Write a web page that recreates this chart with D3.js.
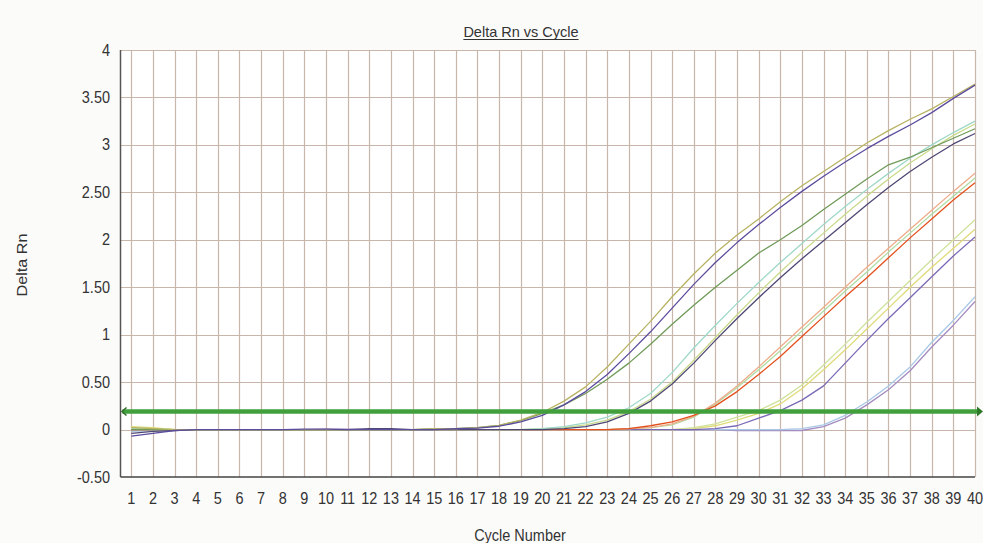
<!DOCTYPE html>
<html>
<head>
<meta charset="utf-8">
<script src="https://cdn.jsdelivr.net/npm/d3@7"></script>
<style>
  html, body { margin: 0; padding: 0; background: #fbfbfa; }
  svg { display: block; }
  text { font-family: "Liberation Sans", Arial, sans-serif; fill: #333; }
</style>
</head>
<body>
<svg id="chart" width="983" height="543"></svg>
<script>
// Amplification plot data: Delta Rn per cycle for each well
const cycles = [1,2,3,4,5,6,7,8,9,10,11,12,13,14,15,16,17,18,19,20,
                21,22,23,24,25,26,27,28,29,30,31,32,33,34,35,36,37,38,39,40];
const yTicks = [-0.5, 0, 0.5, 1, 1.5, 2, 2.5, 3, 3.5, 4];
const yTickLabels = ["-0.50", "0", "0.50", "1", "1.50", "2", "2.50", "3", "3.50", "4"];
const threshold = 0.19;

const wellA1 = [0.02,0.01,0.00,0.00,0.00,0.00,0.00,0.00,0.00,0.00,0.00,0.00,0.00,0.00,0.01,0.01,0.02,0.045,0.10,0.18,
                0.30,0.45,0.66,0.90,1.14,1.40,1.64,1.86,2.05,2.22,2.40,2.57,2.72,2.87,3.02,3.15,3.27,3.38,3.51,3.64];
const wellA2 = [-0.07,-0.04,-0.01,0.00,0.00,0.00,0.00,0.00,0.005,0.005,0.00,0.00,0.00,0.00,0.00,0.01,0.015,0.035,0.08,0.15,
                0.26,0.40,0.58,0.80,1.03,1.28,1.53,1.76,1.97,2.16,2.34,2.51,2.67,2.82,2.96,3.09,3.21,3.34,3.49,3.63];
const wellA3 = [0.00,0.00,0.00,0.00,0.00,0.00,0.00,0.00,0.00,0.00,0.00,0.00,0.00,0.00,0.01,0.01,0.02,0.045,0.095,0.17,
                0.26,0.38,0.53,0.70,0.90,1.11,1.31,1.50,1.68,1.86,2.00,2.15,2.32,2.48,2.64,2.79,2.87,2.97,3.07,3.17];
const wellB1 = [0.01,0.00,0.00,0.00,0.00,0.00,0.00,0.00,0.00,0.00,0.00,0.00,0.00,0.00,0.00,0.00,0.00,0.00,0.00,0.01,
                0.03,0.07,0.13,0.23,0.38,0.60,0.86,1.10,1.33,1.55,1.76,1.96,2.16,2.35,2.53,2.70,2.86,3.00,3.13,3.25];
const wellB2 = [0.02,0.01,0.00,0.00,0.00,0.00,0.00,0.00,0.00,0.00,0.00,0.00,0.00,0.00,0.00,0.00,0.00,0.00,0.00,0.01,
                0.02,0.05,0.10,0.19,0.32,0.50,0.73,0.97,1.21,1.44,1.66,1.87,2.07,2.27,2.46,2.64,2.81,2.96,3.10,3.22];
const wellB3 = [-0.04,-0.02,-0.01,0.00,0.00,0.00,0.00,0.00,0.00,0.00,0.00,0.01,0.01,0.00,0.00,0.00,0.00,0.00,0.00,0.00,
                0.01,0.03,0.08,0.17,0.30,0.48,0.70,0.94,1.17,1.39,1.60,1.80,1.99,2.18,2.37,2.55,2.72,2.87,3.01,3.12];
const wellC1 = [0.00,0.00,0.00,0.00,0.00,0.00,0.00,0.00,0.00,0.00,0.00,0.00,0.00,0.00,0.00,0.00,0.00,0.00,0.00,0.00,
                0.00,0.00,0.00,0.01,0.02,0.06,0.14,0.28,0.46,0.66,0.87,1.08,1.29,1.50,1.71,1.91,2.11,2.31,2.51,2.70];
const wellC2 = [0.02,0.01,0.00,0.00,0.00,0.00,0.00,0.00,0.00,0.00,0.00,0.00,0.00,0.00,0.00,0.00,0.00,0.00,0.00,0.00,
                0.00,0.00,0.00,0.01,0.02,0.05,0.13,0.27,0.44,0.63,0.83,1.04,1.25,1.46,1.66,1.87,2.07,2.27,2.46,2.65];
const wellC3 = [0.00,0.00,0.00,0.00,0.00,0.00,0.00,0.00,0.00,0.00,0.00,0.00,0.00,0.00,0.00,0.00,0.00,0.00,0.00,0.00,
                0.00,0.00,0.00,0.01,0.04,0.08,0.15,0.25,0.40,0.58,0.77,0.98,1.19,1.40,1.60,1.81,2.02,2.22,2.42,2.60];
const wellD1 = [0.01,0.01,0.00,0.00,0.00,0.00,0.00,0.00,0.00,0.00,0.00,0.00,0.00,0.00,0.00,0.00,0.00,0.00,0.00,0.00,
                0.00,0.00,0.00,0.00,0.00,0.00,0.02,0.06,0.13,0.20,0.31,0.47,0.68,0.90,1.13,1.35,1.57,1.79,2.00,2.21];
const wellD2 = [0.03,0.02,0.00,0.00,0.00,0.00,0.00,0.00,0.00,0.00,0.00,0.00,0.00,0.00,0.00,0.00,0.00,0.00,0.00,0.00,
                0.00,0.00,0.00,0.00,0.00,0.00,0.01,0.04,0.10,0.17,0.27,0.43,0.63,0.84,1.06,1.28,1.50,1.71,1.91,2.11];
const wellD3 = [0.00,0.00,0.00,0.00,0.00,0.00,0.00,0.00,0.00,0.00,0.00,0.00,0.00,0.00,0.00,0.00,0.00,0.00,0.00,0.00,
                0.00,0.00,0.00,0.00,0.00,0.00,0.00,0.01,0.04,0.12,0.20,0.31,0.46,0.70,0.94,1.17,1.39,1.61,1.83,2.03];
const wellE1 = [-0.02,-0.01,0.00,0.00,0.00,0.00,0.00,0.00,0.00,0.00,0.00,0.00,0.00,0.00,0.00,0.00,0.00,0.00,0.00,0.00,
                0.00,0.00,0.00,0.00,0.00,0.00,0.00,0.00,0.00,0.00,0.00,0.01,0.05,0.15,0.29,0.46,0.66,0.92,1.15,1.40];
const wellE2 = [0.00,0.00,0.00,0.00,0.00,0.00,0.00,0.00,0.00,0.005,0.005,0.00,0.00,0.00,0.00,0.00,0.00,0.00,0.00,0.00,
                0.00,0.00,0.00,0.00,0.00,0.00,0.00,0.00,-0.01,-0.01,-0.01,-0.01,0.03,0.12,0.26,0.42,0.62,0.87,1.10,1.35];

const wellNames  = ["E2","E1","D2","D1","D3","C2","C1","C3","B2","B1","B3","A3","A1","A2"];
const wellValues = [wellE2, wellE1, wellD2, wellD1, wellD3, wellC2, wellC1, wellC3, wellB2, wellB1, wellB3, wellA3, wellA1, wellA2];
const wellColors = ["#a48cc0","#a8c8e6","#e0da78","#cfe29a","#7a6ab6","#b0dca4","#eeac8a","#e3501e",
                    "#c8da8c","#9fd8c8","#4e4874","#6f9a58","#b8b262","#5c4c9e"];

const svg = d3.select("#chart");
const plotLeft = 120.5, plotRight = 975, plotTop = 50, plotBottom = 477;

const x = d3.scaleLinear().domain([0.5, 40]).range([plotLeft, plotRight]);
const y = d3.scaleLinear().domain([-0.5, 4]).range([plotBottom, plotTop]);

// labels in this plot are drawn slightly tall
function label(g, px, py, str, anchor, size, sy) {
  return g.append("text")
    .attr("transform", `translate(${px},${py}) scale(1,${sy})`)
    .attr("text-anchor", anchor)
    .style("font-size", size + "px")
    .text(str);
}

// plot background
svg.append("rect").attr("x", plotLeft).attr("y", plotTop)
  .attr("width", plotRight - plotLeft).attr("height", plotBottom - plotTop).attr("fill", "#ffffff");

// grid
const grid = svg.append("g").attr("stroke", "#c9b6ab").attr("stroke-width", 1.2);
grid.selectAll("line.v").data(cycles).join("line")
  .attr("x1", d => Math.round(x(d)) + 0.5).attr("x2", d => Math.round(x(d)) + 0.5)
  .attr("y1", plotTop).attr("y2", plotBottom);
grid.selectAll("line.h").data(yTicks.filter(d => d > -0.5)).join("line")
  .attr("x1", plotLeft).attr("x2", plotRight)
  .attr("y1", d => Math.round(y(d)) + 0.5).attr("y2", d => Math.round(y(d)) + 0.5);

// axis lines
svg.append("line").attr("x1", plotLeft).attr("x2", plotLeft).attr("y1", plotTop).attr("y2", plotBottom)
  .attr("stroke", "#555").attr("stroke-width", 1.5);
svg.append("line").attr("x1", plotLeft).attr("x2", plotRight).attr("y1", plotBottom).attr("y2", plotBottom)
  .attr("stroke", "#444").attr("stroke-width", 1.5);

// amplification curves
svg.append("clipPath").attr("id", "plotclip").append("rect")
  .attr("x", plotLeft).attr("y", plotTop).attr("width", plotRight - plotLeft + 1).attr("height", plotBottom - plotTop);
const line = d3.line().x((d, i) => x(cycles[i])).y(d => y(d));
svg.append("g").attr("clip-path", "url(#plotclip)")
  .selectAll("path").data(wellValues).join("path")
  .attr("d", d => line(d))
  .attr("fill", "none")
  .attr("stroke", (d, i) => wellColors[i])
  .attr("stroke-width", 1.3)
  .attr("stroke-linejoin", "round");

// threshold line with end arrows
const ty = y(threshold);
const thr = svg.append("g");
thr.append("line").attr("x1", plotLeft + 2).attr("x2", plotRight + 3).attr("y1", ty).attr("y2", ty)
  .attr("stroke", "#41a03c").attr("stroke-width", 4.5);
thr.append("path")
  .attr("d", `M${plotLeft + 6},${ty - 4} L${plotLeft + 1.5},${ty} L${plotLeft + 6},${ty + 4}`)
  .attr("fill", "none").attr("stroke", "#2f6a2a").attr("stroke-width", 1.5);
thr.append("path")
  .attr("d", `M${plotRight + 2},${ty - 5} L${plotRight + 8},${ty} L${plotRight + 2},${ty + 5} Z`)
  .attr("fill", "#2f7a2a");

// tick labels
const labels = svg.append("g");
yTicks.forEach((t, i) => label(labels, 110, y(t) + 5.5, yTickLabels[i], "end", 14.5, 1.12));
cycles.forEach(c => label(labels, x(c), 504, String(c), "middle", 14.5, 1.12));

// titles
const title = svg.append("text").attr("x", 521).attr("y", 37)
  .attr("text-anchor", "middle").style("font-size", "14.5px").text("Delta Rn vs Cycle");
const tb = title.node().getBBox();
svg.append("line").attr("x1", tb.x).attr("x2", tb.x + tb.width).attr("y1", 39.5).attr("y2", 39.5)
  .attr("stroke", "#333").attr("stroke-width", 1);

label(svg, 520, 541, "Cycle Number", "middle", 14.5, 1.12);
svg.append("text")
  .attr("transform", `translate(27,265) rotate(-90) scale(1.12,1)`)
  .attr("text-anchor", "middle").style("font-size", "14.5px").text("Delta Rn");
</script>
</body>
</html>
